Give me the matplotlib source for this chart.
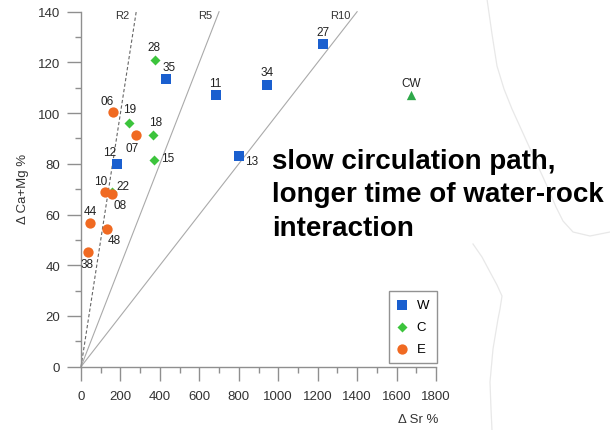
import matplotlib
matplotlib.use("Agg")
import matplotlib.pyplot as plt
from matplotlib.lines import Line2D

plt.rcParams['font.family'] = ['Liberation Sans', 'DejaVu Sans']

# ---- data ----
w_labels = ["35", "11", "34", "12", "13", "27"]
w_x = [429, 683, 945, 181, 801, 1229]
w_y = [113.4, 107.3, 111.0, 80.0, 83.2, 127.2]

c_labels = ["28", "19", "18", "15", "22"]
c_x = [375, 243, 367, 370, 159]
c_y = [121.0, 96.0, 91.2, 81.4, 68.8]

e_labels = ["06", "07", "10", "08", "44", "48", "38"]
e_x = [161, 277, 123, 156, 47, 130, 35]
e_y = [100.4, 91.5, 69.0, 68.1, 56.5, 54.4, 45.2]

cw_label = "CW"
cw_x = [1672]
cw_y = [107.3]

ratio_names = ["R2", "R5", "R10"]
ratio_values = [2, 5, 10]

annotation = "slow circulation path,\nlonger time of water-rock\ninteraction"

# label offsets in pixels (dx, dy, ha)
w_off = {"35": (3, 12, 'center'), "11": (0, 12, 'center'), "34": (0, 13, 'center'),
         "12": (-7, 12, 'center'), "13": (6, -5, 'left'), "27": (0, 12, 'center')}
c_off = {"28": (-1, 13, 'center'), "19": (1, 14, 'center'), "18": (2, 13, 'center'),
         "15": (7, 2, 'left'), "22": (4, 6, 'left')}
e_off = {"06": (-6, 11, 'center'), "07": (-4, -13, 'center'), "10": (-5, 11, 'center'),
         "08": (2, -11, 'left'), "44": (0, 12, 'center'), "48": (1, -11, 'left'),
         "38": (-1, -12, 'center')}

blue = "#1a5fcf"
green = "#3cc43c"
orange = "#f06a22"
tri_green = "#2ea84a"

fig = plt.figure(figsize=(6.10, 4.31), dpi=100)

# faint decorative background curves (figure coords, px)
def fig_curve(pts):
    xs = [p[0] / 610 for p in pts]
    ys = [1 - p[1] / 431 for p in pts]
    fig.add_artist(Line2D(xs, ys, color="#e8e8e8", lw=0.9, transform=fig.transFigure,
                          zorder=0, solid_joinstyle='round'))

fig_curve([(487, 0), (492, 35), (497, 67), (504, 90), (512, 110), (527, 143),
           (547, 187), (556, 208), (563, 222), (573, 233), (590, 237), (610, 233)])
fig_curve([(473, 245), (482, 258), (490, 273), (497, 286), (502, 297), (500, 310),
           (498, 320), (493, 350), (490, 383), (491, 410), (492, 431)])

ax = fig.add_axes([81 / 610, 1 - 367.7 / 431, 355 / 610, 355 / 431])
ax.set_xlim(0, 1800)
ax.set_ylim(0, 140)
ax.patch.set_alpha(0)

for s in ["top", "right"]:
    ax.spines[s].set_visible(False)
for s in ["left", "bottom"]:
    ax.spines[s].set_color("#8f8f8f")
    ax.spines[s].set_linewidth(1.0)

ax.set_xticks(range(0, 1801, 200))
ax.set_xticks(range(100, 1800, 200), minor=True)
ax.set_yticks(range(0, 141, 20))
ax.set_yticks(range(10, 140, 20), minor=True)
ax.tick_params(axis='both', which='major', length=10, width=1.0, color="#8f8f8f",
               labelsize=9.5, labelcolor="#333333", pad=5)
ax.tick_params(axis='x', which='major', pad=7)
ax.tick_params(axis='both', which='minor', length=4, width=1.0, color="#8f8f8f")

# ratio lines
for name, r in zip(ratio_names, ratio_values):
    xs = [0, 140 * r]
    ys = [0, 140]
    if r == 2:
        ax.plot(xs, ys, color="#666666", lw=0.8, ls=(0, (3, 2)), clip_on=False, zorder=1)
    else:
        ax.plot(xs, ys, color="#aaaaaa", lw=0.8, clip_on=False, zorder=1)
    ax.annotate(name, (140 * r, 140), xytext=(-7, -3), textcoords='offset pixels',
                ha='right', va='center', fontsize=8, color="#333333",
                annotation_clip=False)

ax.scatter(w_x, w_y, marker='s', s=42, color=blue, zorder=3, label="W", linewidths=0)
ax.scatter(c_x, c_y, marker='D', s=26, color=green, zorder=3, label="C", linewidths=0)
ax.scatter(e_x, e_y, marker='o', s=55, color=orange, zorder=3, label="E", linewidths=0)
ax.scatter(cw_x, cw_y, marker='^', s=45, color=tri_green, zorder=3, linewidths=0)

def label_points(labels, xs, ys, offs):
    for lab, x, y in zip(labels, xs, ys):
        dx, dy, ha = offs[lab]
        ax.annotate(lab, (x, y), xytext=(dx, dy), textcoords='offset pixels',
                    ha=ha, va='center', fontsize=8.5, color="#222222")

label_points(w_labels, w_x, w_y, w_off)
label_points(c_labels, c_x, c_y, c_off)
label_points(e_labels, e_x, e_y, e_off)
ax.annotate(cw_label, (cw_x[0], cw_y[0]), xytext=(0, 12), textcoords='offset pixels',
            ha='center', va='center', fontsize=8.5, color="#222222")

leg = ax.legend(loc='upper left', bbox_to_anchor=(389 / 610, 1 - 292 / 431),
                bbox_transform=fig.transFigure, frameon=True, fancybox=False,
                fontsize=9.5, handlelength=0.8, handletextpad=0.7,
                labelspacing=0.75, borderpad=0.6, borderaxespad=0)
leg.get_frame().set_edgecolor("#777777")
leg.get_frame().set_linewidth(1.0)

fig.text(418 / 610, 1 - 420 / 431, "Δ Sr %", ha='center', va='center',
         fontsize=9.5, color="#333333")
fig.text(23 / 610, 1 - 189 / 431, "Δ Ca+Mg %", ha='center', va='center',
         rotation=90, fontsize=9.5, color="#333333")

fig.text(272 / 610, 1 - 149 / 431, annotation, ha='left', va='top',
         fontsize=20, fontweight='bold', color="black", linespacing=1.37)

fig.savefig("out.png", dpi=100)
